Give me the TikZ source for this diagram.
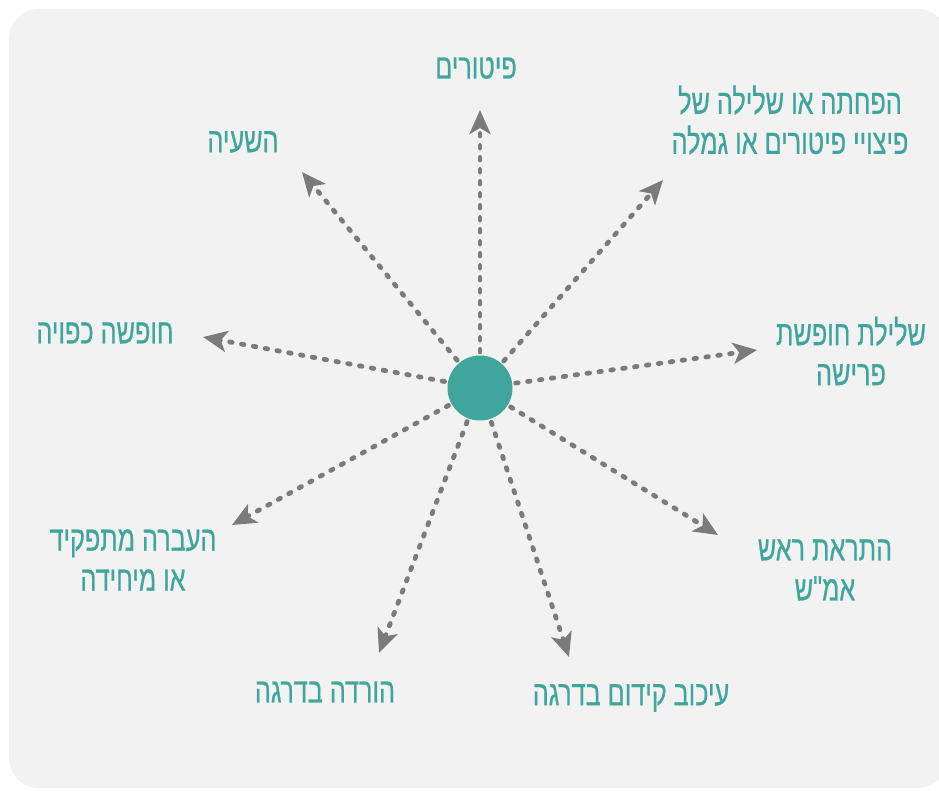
\documentclass[tikz,border=0pt]{standalone}
\usepackage{fontspec}
\newfontfamily\hebfont[Script=Hebrew,FakeStretch=0.72,FakeBold=0.6]{Liberation Sans}
\TeXXeTstate=1
\usetikzlibrary{arrows.meta}
\definecolor{hubteal}{HTML}{3FA59D}
\definecolor{arrgray}{HTML}{7B7B7B}
\definecolor{bggray}{HTML}{F2F2F2}
\tikzset{
  ray/.style={arrgray, line width=4.8pt, line cap=round, dash pattern=on 2.5pt off 9.5pt,
    -{Stealth[length=24pt,width=21pt,inset=6pt,line cap=butt]}},
  lbl/.style={text=hubteal, font=\hebfont\fontsize{35}{40}\selectfont, align=center, inner sep=0pt}
}
\begin{document}
\begin{tikzpicture}[x=1pt,y=-1pt]
  \useasboundingbox (0,0) rectangle (939,790);
  \fill[bggray, rounded corners=30pt] (9,9) rectangle (948,788);
  % centre
  \coordinate (c) at (480,388);
  % arrow tips
  \coordinate (t1) at (480,110);
  \coordinate (t2) at (663,180);
  \coordinate (t3) at (757,350);
  \coordinate (t4) at (718,535);
  \coordinate (t5) at (569,657);
  \coordinate (t6) at (379,653);
  \coordinate (t7) at (232,525);
  \coordinate (t8) at (203,337);
  \coordinate (t9) at (302,172);
  \foreach \t in {t1,t2,t3,t4,t5,t6,t7,t8,t9}
    \draw[ray] (c) -- (\t);
  \node[fill=hubteal, circle, minimum size=65pt, inner sep=0pt] (hub) at (c) {};
  % labels
  \node[lbl] (dismiss) at (476,68) {\beginR פיטורים\endR};
  \node[lbl] (pension) at (790,120) {\beginR הפחתה או שלילה של\endR\\\beginR פיצויי פיטורים או גמלה\endR};
  \node[lbl] (leave) at (851,351) {\beginR שלילת חופשת\endR\\\beginR פרישה\endR};
  \node[lbl] (warn) at (825,570) {\beginR התראת ראש\endR\\\beginR אמ"ש\endR};
  \node[lbl] (delay) at (631,698) {\beginR עיכוב קידום בדרגה\endR};
  \node[lbl] (demote) at (325,692) {\beginR הורדה בדרגה\endR};
  \node[lbl] (transfer) at (133,560) {\beginR העברה מתפקיד\endR\\\beginR או מיחידה\endR};
  \node[lbl] (forced) at (105,333) {\beginR חופשה כפויה\endR};
  \node[lbl] (suspend) at (243,142) {\beginR השעיה\endR};
\end{tikzpicture}
\end{document}
